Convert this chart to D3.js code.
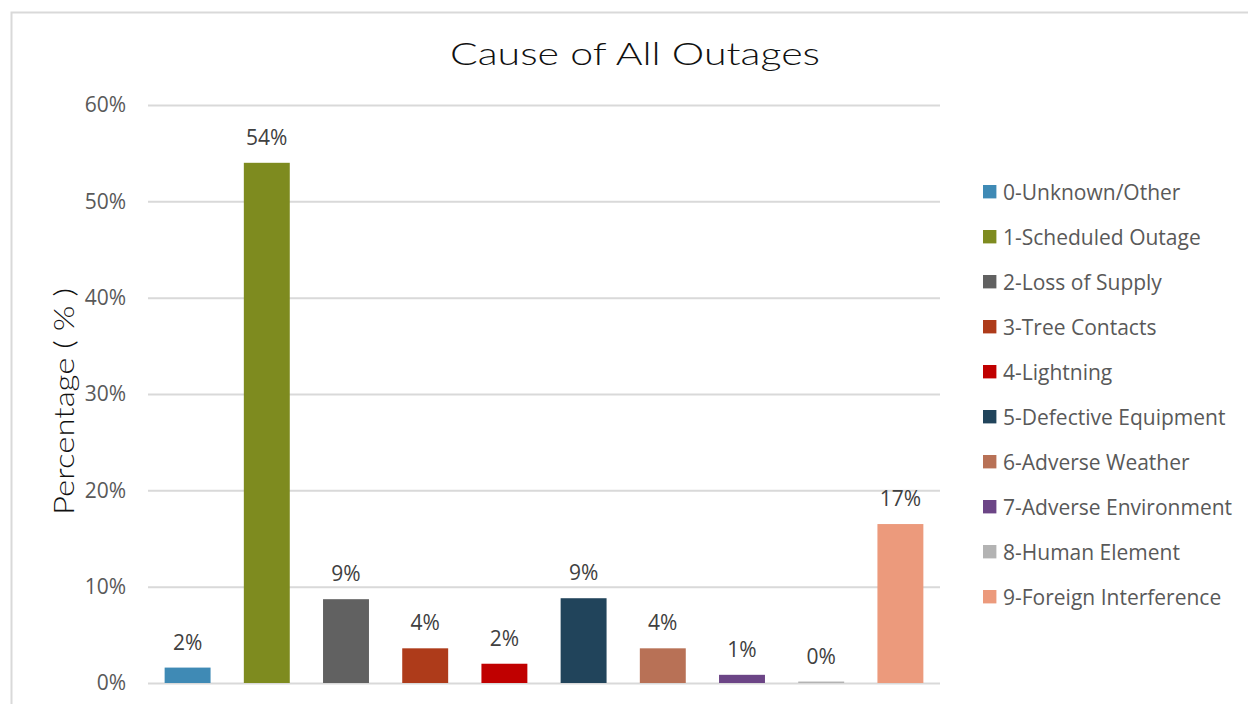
<!DOCTYPE html>
<html>
<head>
<meta charset="utf-8">
<script src="https://cdn.jsdelivr.net/npm/d3@7"></script>
<style>
  html, body { margin: 0; padding: 0; background: #fff; }
  svg { display: block; }
</style>
</head>
<body>
<svg id="chart" width="1248" height="704"></svg>
<script>
// Outage causes and their share of all outages (%)
const categories = [
  "0-Unknown/Other", "1-Scheduled Outage", "2-Loss of Supply", "3-Tree Contacts",
  "4-Lightning", "5-Defective Equipment", "6-Adverse Weather",
  "7-Adverse Environment", "8-Human Element", "9-Foreign Interference"
];
const values = [1.6, 54.0, 8.7, 3.6, 2.0, 8.8, 3.6, 0.85, 0.15, 16.5];
const colors = [
  "#3F8AB5", "#7E8B1F", "#616161", "#AE3B1A", "#C00000",
  "#21445B", "#B87156", "#6C4586", "#B3B3B3", "#EC9A7C"
];
const yTicks = [0, 10, 20, 30, 40, 50, 60];

const svg = d3.select("#chart");
const plot = { left: 148, right: 940, top: 105, bottom: 683 };

// Chart frame
svg.append("rect")
  .attr("x", 11.5).attr("y", 12.5)
  .attr("width", 1400).attr("height", 900)
  .attr("fill", "none").attr("stroke", "#D9D9D9").attr("stroke-width", 2);

const x = d3.scaleBand().domain(categories)
  .range([plot.left, plot.right]).paddingInner(0.42).paddingOuter(0.21);
const y = d3.scaleLinear().domain([0, 60]).range([plot.bottom, plot.top]);

// Gridlines and tick labels
const yAxis = d3.axisLeft(y).tickValues(yTicks)
  .tickFormat(d => d + "%")
  .tickSize(-(plot.right - plot.left)).tickPadding(22);
const gy = svg.append("g").attr("transform", `translate(${plot.left},0)`).call(yAxis);
gy.select(".domain").remove();
gy.selectAll(".tick line").attr("stroke", "#D9D9D9").attr("stroke-width", 2);
gy.selectAll(".tick text")
  .attr("fill", "#595959")
  .style("font-family", "'Open Sans', sans-serif")
  .style("font-size", "21px");

// Bars
svg.append("g").selectAll("rect").data(values).join("rect")
  .attr("x", (d, i) => x(categories[i]))
  .attr("width", x.bandwidth())
  .attr("y", d => y(d))
  .attr("height", d => y(0) - y(d))
  .attr("fill", (d, i) => colors[i]);

// Value labels
svg.append("g").selectAll("text").data(values).join("text")
  .attr("x", (d, i) => x(categories[i]) + x.bandwidth() / 2)
  .attr("y", d => y(d) - 18)
  .attr("text-anchor", "middle")
  .attr("fill", "#404040")
  .style("font-family", "'Open Sans', sans-serif")
  .style("font-size", "21px")
  .text(d => Math.round(d) + "%");

// Title, stretched to an extended look
svg.append("text")
  .attr("x", 450).attr("y", 65)
  .attr("textLength", 370)
  .attr("lengthAdjust", "spacingAndGlyphs")
  .attr("fill", "#111")
  .style("font-family", "Lato, 'Liberation Sans', sans-serif")
  .style("font-weight", 300)
  .style("font-size", "31px")
  .text("Cause of All Outages");

// Y axis title
svg.append("text")
  .attr("transform", "translate(74,515) rotate(-90)")
  .attr("textLength", 227)
  .attr("lengthAdjust", "spacingAndGlyphs")
  .attr("fill", "#111")
  .style("font-family", "Lato, 'Liberation Sans', sans-serif")
  .style("font-weight", 300)
  .style("font-size", "28px")
  .text("Percentage ( % )");

// Legend
const legend = svg.append("g").selectAll("g").data(categories).join("g")
  .attr("transform", (d, i) => `translate(983,${191.7 + i * 45})`);
legend.append("rect")
  .attr("x", 0).attr("y", -6.7).attr("width", 13.4).attr("height", 13.4)
  .attr("fill", (d, i) => colors[i]);
legend.append("text")
  .attr("x", 20).attr("y", 8)
  .attr("fill", "#595959")
  .style("font-family", "'Open Sans', sans-serif")
  .style("font-size", "21px")
  .text(d => d);
</script>
</body>
</html>
